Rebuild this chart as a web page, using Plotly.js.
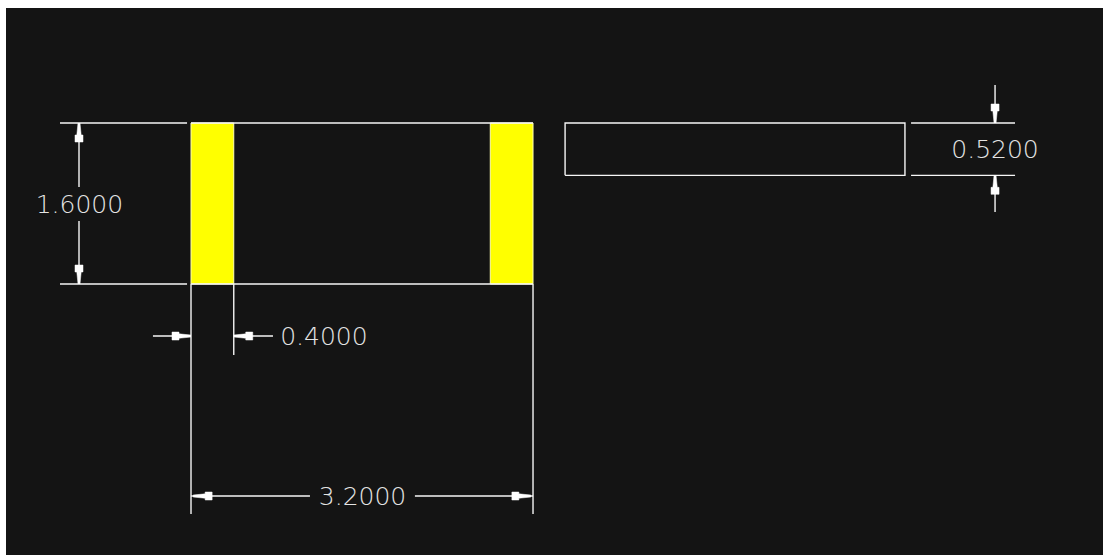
<!DOCTYPE html>
<html>
<head>
<meta charset="utf-8">
<script src="https://cdn.plot.ly/plotly-3.0.1.min.js"></script>
<style>html,body{margin:0;padding:0;background:#fff}#chart{width:1103px;height:555px}</style>
</head>
<body>
<div id="chart"></div>
<script>
var padLeftX  = [0, 0.4, 0.4, 0, 0];
var padRightX = [2.8, 3.2, 3.2, 2.8, 2.8];
var padY      = [0, 0, 1.6, 1.6, 0];

var topBodyX = [0, 3.2, null, 0, 3.2];
var topBodyY = [1.6, 1.6, null, 0, 0];

var sideBodyX = [3.5, 6.68, 6.68, 3.5, 3.5];
var sideBodyY = [1.08, 1.08, 1.6, 1.6, 1.08];

var extensionX = [-1.226, -0.037, null, -1.226, -0.037, null, 0, 0, null, 3.2, 3.2, null, 0.4, 0.4, null, 6.737, 7.71, null, 6.737, 7.71];
var extensionY = [1.6, 1.6, null, 0, 0, null, 0, -2.286, null, 0, -2.286, null, 0, -0.706, null, 1.6, 1.6, null, 1.08, 1.08];

var dimLineX = [-1.048, -1.048, null, -1.048, -1.048, null, -0.356, 0, null, 0.4, 0.767, null, 0, 1.113, null, 2.095, 3.2, null, 7.523, 7.523, null, 7.523, 7.523];
var dimLineY = [1.6, 0.964, null, 0.626, 0, null, -0.517, -0.517, null, -0.517, -0.517, null, -2.107, -2.107, null, -2.107, -2.107, null, 1.978, 1.6, null, 1.08, 0.716];

var arrowTipX = [-1.048, -1.048, 0, 0.4, 0.02, 3.18, 7.523, 7.523];
var arrowTipY = [1.6, 0, -0.517, -0.517, -2.107, -2.107, 1.6, 1.08];
var arrowDirX = [0, 0, 1, -1, -1, 1, 0, 0];
var arrowDirY = [1, -1, 0, 0, 0, 0, -1, 1];

var labelText = ['1.6000', '0.4000', '3.2000', '0.5200'];
var labelX = [-1.044, 1.244, 1.605, 7.523];
var labelY = [0.765, -0.547, -2.137, 1.31];

// Plot scale: pixels per drawing unit, fixes the arrow head size in unit terms.
var PX = 106.875, PY = 100.625;
var headLen = [0, 12, 12, 19, 19, 12, 12, 0];
var headHalf = [1, 2.2, 4, 4, -4, -4, -2.2, -1];

var arrowX = [], arrowY = [];
arrowTipX.forEach(function (tx, i) {
  var dx = arrowDirX[i], dy = arrowDirY[i];
  headLen.forEach(function (l, k) {
    var w = headHalf[k];
    arrowX.push(tx + (dx ? -dx * l / PX : w / PX));
    arrowY.push(arrowTipY[i] + (dy ? -dy * l / PY : w / PY));
  });
  arrowX.push(null); arrowY.push(null);
});

var WHITE = '#f6f6f6';
function lines(x, y, w) {
  return {x: x, y: y, mode: 'lines', line: {color: WHITE, width: w}, hoverinfo: 'skip', connectgaps: false};
}
function pad(x) {
  return {x: x, y: padY, mode: 'lines', fill: 'toself', fillcolor: '#ffff00',
          line: {color: '#ffffb0', width: 1}, hoverinfo: 'skip'};
}

var traces = [
  pad(padLeftX),
  pad(padRightX),
  lines(topBodyX, topBodyY, 1.4),
  lines(sideBodyX, sideBodyY, 1.4),
  lines(extensionX, extensionY, 1.4),
  lines(dimLineX, dimLineY, 1.4),
  {x: arrowX, y: arrowY, mode: 'lines', fill: 'toself', fillcolor: '#ffffff',
   line: {color: '#ffffff', width: 0.5}, hoverinfo: 'skip'},
  {x: labelX, y: labelY, text: labelText, mode: 'text', textposition: 'middle center',
   textfont: {family: '"DejaVu Sans Light","DejaVu Sans",sans-serif', size: 25, color: '#e4e4e4', weight: 200},
   hoverinfo: 'skip'}
];

var layout = {
  width: 1103, height: 555,
  margin: {l: 6, r: 0, t: 8, b: 0, pad: 0},
  paper_bgcolor: '#ffffff',
  plot_bgcolor: '#141414',
  showlegend: false,
  xaxis: {range: [-1.731, 8.533], visible: false, fixedrange: true},
  yaxis: {range: [-2.693, 2.743], visible: false, fixedrange: true}
};

Plotly.newPlot('chart', traces, layout, {displayModeBar: false, staticPlot: true});
</script>
</body>
</html>
